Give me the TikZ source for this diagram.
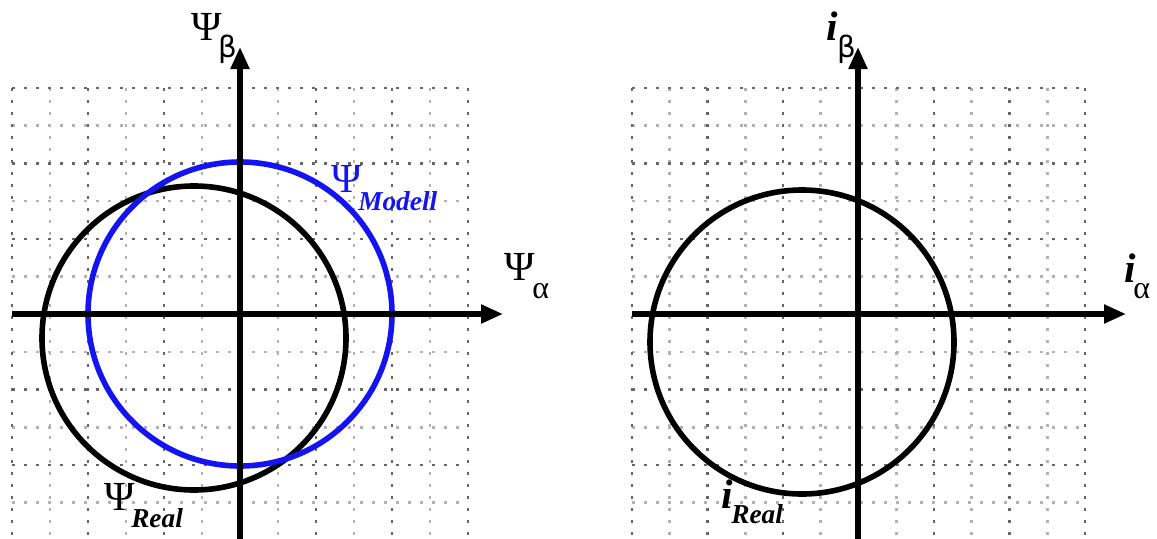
\documentclass[tikz,border=0pt]{standalone}
\usepackage{fontspec}
\usetikzlibrary{arrows.meta}
\newfontfamily\labfont{Liberation Serif}
\newfontfamily\grkfont{DejaVu Sans}
\definecolor{modelblue}{RGB}{20,20,240}
\tikzset{
  gridmajor/.style={draw=black!60, line width=1.9pt, dash pattern=on 2pt off 7pt},
  gridminor/.style={draw=black!30, line width=1.9pt, dash pattern=on 2pt off 7pt},
  axisline/.style={line width=3.9pt, -{Triangle[length=16.5pt,width=13.5pt]}},
  curve/.style={line width=4.2pt},
  biglab/.style={inner sep=0pt, anchor=base west, font=\labfont\fontsize{31}{34}\selectfont},
  sublab/.style={inner sep=0pt, anchor=base west, font=\labfont\fontsize{24}{27}\selectfont},
  wordlab/.style={inner sep=0pt, anchor=base west, font=\labfont\fontsize{20.5}{24}\selectfont\bfseries\itshape},
  grklab/.style={inner sep=0pt, anchor=base west, font=\grkfont\fontsize{22}{25}\selectfont}
}
\begin{document}
\begin{tikzpicture}[x=0.75pt,y=-0.75pt]
\useasboundingbox (0,0) rectangle (1157,539);
% ---------- grids ----------
\foreach \k in {1,3,...,11} {
  \draw[gridminor] ({12+38*\k},88) -- ({12+38*\k},539);
  \draw[gridminor] (12,{88+37.7*\k}) -- (468,{88+37.7*\k});
  \draw[gridminor] ({632+37.75*\k},88) -- ({632+37.75*\k},539);
  \draw[gridminor] (632,{88+37.7*\k}) -- (1086,{88+37.7*\k});
}
\foreach \k in {0,2,...,12} {
  \draw[gridmajor] ({12+38*\k},88) -- ({12+38*\k},539);
  \draw[gridmajor] ({632+37.75*\k},88) -- ({632+37.75*\k},539);
}
\foreach \k in {0,2,...,10} {
  \draw[gridmajor] (12,{88+37.7*\k}) -- (468,{88+37.7*\k});
  \draw[gridmajor] (632,{88+37.7*\k}) -- (1086,{88+37.7*\k});
}
% ---------- left panel ----------
\coordinate (LO) at (240,314);
\coordinate (LW) at (12,314);
\coordinate (LE) at (503,314);
\coordinate (LS) at (240,539);
\coordinate (LN) at (240,47);
\draw[curve] (194,338) circle[radius=152];
\draw[curve, modelblue] (LO) circle[radius=152];
\draw[axisline] (LW) -- (LE);
\draw[axisline] (LS) -- (LN);
\node[biglab] (psib) at (191,40) {Ψ};
\node[grklab] (psibs) at (218,57) {β};
\node[biglab] (psia) at (504,280) {Ψ};
\node[sublab] (psias) at (532,298) {α};
\node[biglab, text=modelblue] (psim) at (331,192) {Ψ};
\node[wordlab, text=modelblue] (psims) at (358,210) {Modell};
\node[biglab] (psir) at (104,510) {Ψ};
\node[wordlab] (psirs) at (131,527) {Real};
% ---------- right panel ----------
\coordinate (RO) at (858,314);
\coordinate (RW) at (632,314);
\coordinate (RE) at (1126,314);
\coordinate (RS) at (858,539);
\coordinate (RN) at (858,47);
\draw[curve] (802,342) circle[radius=152];
\draw[axisline] (RW) -- (RE);
\draw[axisline] (RS) -- (RN);
\node[biglab] (ib) at (826,40) {\itshape\bfseries i};
\node[grklab] (ibs) at (837,57) {β};
\node[biglab] (ia) at (1124,282) {\itshape\bfseries i};
\node[sublab] (ias) at (1133,298) {α};
\node[biglab] (ir) at (721,508) {\itshape\bfseries i};
\node[wordlab] (irs) at (731,523) {Real};
\end{tikzpicture}
\end{document}
